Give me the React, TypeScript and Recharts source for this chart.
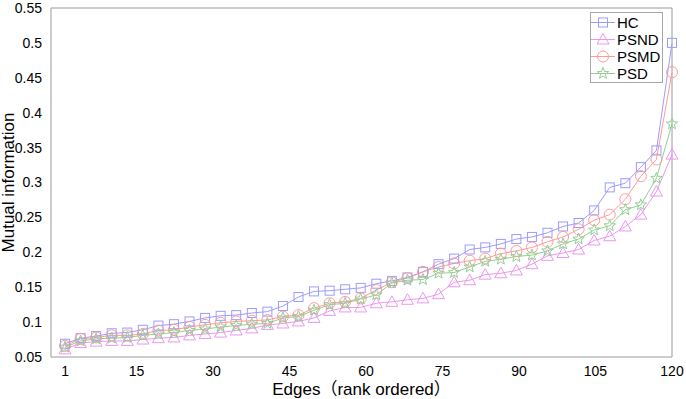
import { Line, LineChart, ReferenceLine, XAxis, YAxis } from "recharts";

// edge rank of each sample (40 samples spread over 1..120)
const edges = [
  1, 4.05, 7.1, 10.15, 13.21, 16.26, 19.31, 22.36, 25.41, 28.46, 31.51, 34.56,
  37.62, 40.67, 43.72, 46.77, 49.82, 52.87, 55.92, 58.97, 62.03, 65.08, 68.13,
  71.18, 74.23, 77.28, 80.33, 83.38, 86.44, 89.49, 92.54, 95.59, 98.64, 101.69,
  104.74, 107.79, 110.85, 113.9, 116.95, 120,
];

const hc = [
  0.069, 0.077, 0.08, 0.084, 0.085, 0.089, 0.095, 0.097, 0.101, 0.106, 0.109,
  0.11, 0.113, 0.115, 0.123, 0.136, 0.144, 0.145, 0.147, 0.149, 0.155, 0.159,
  0.164, 0.172, 0.183, 0.191, 0.204, 0.207, 0.212, 0.219, 0.222, 0.228, 0.237,
  0.242, 0.26, 0.293, 0.299, 0.322, 0.346, 0.5,
];
const psnd = [
  0.061, 0.07, 0.072, 0.073, 0.073, 0.075, 0.077, 0.078, 0.081, 0.083, 0.085,
  0.088, 0.091, 0.096, 0.098, 0.101, 0.106, 0.116, 0.121, 0.121, 0.127, 0.129,
  0.132, 0.134, 0.14, 0.157, 0.16, 0.168, 0.17, 0.174, 0.183, 0.195, 0.199,
  0.204, 0.217, 0.223, 0.237, 0.254, 0.287, 0.34,
];
const psmd = [
  0.066, 0.076, 0.078, 0.081, 0.081, 0.083, 0.088, 0.089, 0.093, 0.096, 0.099,
  0.101, 0.102, 0.103, 0.108, 0.11, 0.12, 0.127, 0.129, 0.134, 0.146, 0.157,
  0.163, 0.172, 0.179, 0.184, 0.188, 0.191, 0.198, 0.202, 0.207, 0.215, 0.222,
  0.233, 0.246, 0.254, 0.276, 0.309, 0.333, 0.458,
];
const psd = [
  0.064, 0.073, 0.076, 0.077, 0.078, 0.081, 0.083, 0.085, 0.088, 0.09, 0.093,
  0.095, 0.097, 0.098, 0.106, 0.108, 0.117, 0.125, 0.127, 0.133, 0.139, 0.156,
  0.16, 0.161, 0.17, 0.171, 0.179, 0.187, 0.19, 0.194, 0.196, 0.202, 0.212,
  0.219, 0.232, 0.238, 0.261, 0.268, 0.306, 0.384,
];

const xTicks = [1, 15, 30, 45, 60, 75, 90, 105, 120];
const yTicks = [0.05, 0.1, 0.15, 0.2, 0.25, 0.3, 0.35, 0.4, 0.45, 0.5, 0.55];

const data = edges.map((e, i) => ({
  x: e,
  HC: hc[i],
  PSND: psnd[i],
  PSMD: psmd[i],
  PSD: psd[i],
}));

type Shape = "square" | "triangle" | "circle" | "star";

const series: { key: string; color: string; shape: Shape }[] = [
  { key: "HC", color: "#9c9cff", shape: "square" },
  { key: "PSND", color: "#eb97ef", shape: "triangle" },
  { key: "PSMD", color: "#ff9a9a", shape: "circle" },
  { key: "PSD", color: "#92cf92", shape: "star" },
];

const FONT = "'Liberation Sans', Arial, 'Noto Sans CJK SC', sans-serif";
const AXIS = "#9a9a9a";

function starPath(cx: number, cy: number, r: number) {
  const pts: string[] = [];
  for (let i = 0; i < 10; i++) {
    const rad = i % 2 === 0 ? r : r * 0.42;
    const a = -Math.PI / 2 + (i * Math.PI) / 5;
    pts.push(`${(cx + rad * Math.cos(a)).toFixed(2)},${(cy + rad * Math.sin(a)).toFixed(2)}`);
  }
  return "M" + pts.join("L") + "Z";
}

function Marker({ cx, cy, shape, color }: { cx: number; cy: number; shape: Shape; color: string }) {
  const common = { fill: "none", stroke: color, strokeWidth: 1 };
  if (shape === "square") return <rect x={cx - 4.5} y={cy - 4.5} width={9} height={9} {...common} />;
  if (shape === "circle") return <circle cx={cx} cy={cy} r={5.5} {...common} />;
  if (shape === "triangle")
    return <path d={`M${cx},${cy - 6}L${cx + 6},${cy + 4.5}L${cx - 6},${cy + 4.5}Z`} {...common} />;
  return <path d={starPath(cx, cy, 6)} {...common} />;
}

function makeDot(shape: Shape, color: string) {
  return (props: any) => {
    const { cx, cy, index } = props;
    if (cx == null || cy == null) return <g key={`n-${index}`} />;
    return (
      <g key={`${shape}-${index}`}>
        <Marker cx={cx} cy={cy} shape={shape} color={color} />
      </g>
    );
  };
}

function LegendBox() {
  return (
    <div
      style={{
        position: "absolute",
        left: 590,
        top: 12,
        width: 73,
        boxSizing: "border-box",
        border: "1px solid #a8a8a8",
        background: "#fff",
        padding: "1px 0 0",
        fontFamily: FONT,
        fontSize: 15,
        lineHeight: "17px",
        color: "#000",
      }}
    >
      {series.map((s) => (
        <div key={s.key} style={{ display: "flex", alignItems: "center" }}>
          <svg width={26} height={17} style={{ flex: "none" }}>
            <line x1={0} y1={8.5} x2={24} y2={8.5} stroke={s.color} strokeWidth={1} />
            <Marker cx={12} cy={8.5} shape={s.shape} color={s.color} />
          </svg>
          <span>{s.key}</span>
        </div>
      ))}
    </div>
  );
}

export default function App() {
  return (
    <div style={{ position: "absolute", left: 0, top: 0, width: 686, height: 399, background: "#fff" }}>
      <LineChart
        width={686}
        height={399}
        data={data}
        margin={{ top: 8, right: 14, bottom: 0, left: 0 }}
      >
        <XAxis
          dataKey="x"
          type="number"
          domain={[-1.75, 120]}
          ticks={xTicks}
          interval={0}
          height={42}
          stroke={AXIS}
          tickLine={false}
          tick={{ fill: "#000", fontSize: 14, fontFamily: FONT }}
          tickMargin={3}
          label={{
            value: "Edges（rank ordered）",
            position: "insideBottom",
            offset: 4,
            fill: "#000",
            fontSize: 17,
            fontFamily: FONT,
          }}
        />
        <YAxis
          type="number"
          domain={[0.05, 0.55]}
          ticks={yTicks}
          interval={0}
          width={51}
          stroke={AXIS}
          tickLine={false}
          tickMargin={3}
          tick={{ fill: "#000", fontSize: 14, fontFamily: FONT }}
          label={{
            value: "Mutual information",
            angle: -90,
            position: "insideLeft",
            offset: 8,
            style: { textAnchor: "middle" },
            fill: "#000",
            fontSize: 17,
            fontFamily: FONT,
          }}
        />
        <ReferenceLine y={0.55} stroke={AXIS} />
        <ReferenceLine x={120} stroke={AXIS} />
        {series.map((s) => (
          <Line
            key={s.key}
            type="linear"
            dataKey={s.key}
            stroke={s.color}
            strokeWidth={1}
            dot={makeDot(s.shape, s.color)}
            activeDot={false}
            isAnimationActive={false}
          />
        ))}
      </LineChart>
      <LegendBox />
    </div>
  );
}
